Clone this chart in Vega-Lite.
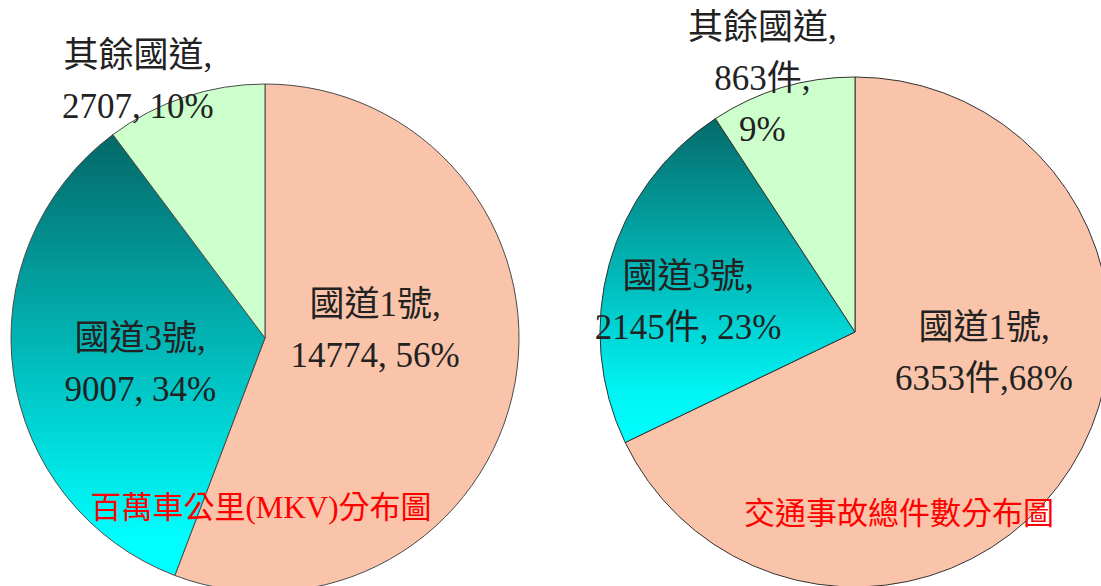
{
  "$schema": "https://vega.github.io/schema/vega-lite/v6.json",
  "padding": 0,
  "spacing": 0,
  "background": "white",
  "config": {"view": {"stroke": null}, "concat": {"spacing": 0}},
  "datasets": {
    "mkv": [
      {"cat": "國道1號", "value": 14774, "ord": 1, "label": "國道1號,\n14774, 56%"},
      {"cat": "國道3號", "value": 9007, "ord": 2, "label": "國道3號,\n9007, 34%"},
      {"cat": "其餘國道", "value": 2707, "ord": 3, "label": "其餘國道,\n2707, 10%"}
    ],
    "acc": [
      {"cat": "國道1號", "value": 6353, "ord": 1, "label": "國道1號,\n6353件,68%"},
      {"cat": "國道3號", "value": 2145, "ord": 2, "label": "國道3號,\n2145件, 23%"},
      {"cat": "其餘國道", "value": 863, "ord": 3, "label": "其餘國道,\n863件,\n9%"}
    ]
  },
  "hconcat": [
    {
      "width": 530,
      "height": 676,
      "data": {"name": "mkv"},
      "title": {"text": "百萬車公里(MKV)分布圖", "orient": "bottom", "frame": "group", "anchor": "middle", "offset": -182, "dx": -4, "color": "#FF0000", "fontSize": 31, "fontWeight": "normal", "font": "Liberation Serif, Noto Sans CJK TC"},
      "layer": [
        {
          "mark": {"type": "arc", "radius": 254, "stroke": "#4a4a4a", "strokeWidth": 1},
          "encoding": {
            "theta": {"field": "value", "type": "quantitative", "stack": true},
            "order": {"field": "ord", "type": "quantitative"},
            "color": {
              "condition": {"test": "datum.cat === '國道3號'", "value": {"gradient": "linear", "x1": 0, "y1": 0, "x2": 0, "y2": 1, "stops": [{"offset": 0, "color": "#046767"}, {"offset": 0.92, "color": "#00FFFF"}, {"offset": 1, "color": "#00FFFF"}]}},
              "field": "cat", "type": "nominal",
              "scale": {"domain": ["國道1號", "國道3號", "其餘國道"], "range": ["#F9C4A9", "#00AAAA", "#CCFFCC"]},
              "legend": null
            }
          }
        },
        {
          "mark": {"type": "text", "radius": 110, "dx": 2, "dy": -53, "align": "center", "baseline": "middle", "lineBreak": "\n", "lineHeight": 51, "fontSize": 35, "font": "Liberation Serif, Noto Sans CJK TC", "color": "#222222"},
          "encoding": {
            "theta": {"field": "value", "type": "quantitative", "stack": true},
            "order": {"field": "ord", "type": "quantitative"},
            "text": {"condition": {"test": "datum.cat === '國道1號'", "field": "label"}, "value": ""}
          }
        },
        {
          "mark": {"type": "text", "radius": 127, "dx": 1, "dy": -17, "align": "center", "baseline": "middle", "lineBreak": "\n", "lineHeight": 51, "fontSize": 35, "font": "Liberation Serif, Noto Sans CJK TC", "color": "#222222"},
          "encoding": {
            "theta": {"field": "value", "type": "quantitative", "stack": true},
            "order": {"field": "ord", "type": "quantitative"},
            "text": {"condition": {"test": "datum.cat === '國道3號'", "field": "label"}, "value": ""}
          }
        },
        {
          "mark": {"type": "text", "radius": 200, "dx": -64, "dy": -92, "align": "center", "baseline": "middle", "lineBreak": "\n", "lineHeight": 51, "fontSize": 35, "font": "Liberation Serif, Noto Sans CJK TC", "color": "#222222"},
          "encoding": {
            "theta": {"field": "value", "type": "quantitative", "stack": true},
            "order": {"field": "ord", "type": "quantitative"},
            "text": {"condition": {"test": "datum.cat === '其餘國道'", "field": "label"}, "value": ""}
          }
        }
      ]
    },
    {
      "width": 650,
      "height": 664,
      "data": {"name": "acc"},
      "title": {"text": "交通事故總件數分布圖", "orient": "bottom", "frame": "group", "anchor": "middle", "offset": -164, "dx": 44, "color": "#FF0000", "fontSize": 31, "fontWeight": "normal", "font": "Liberation Serif, Noto Sans CJK TC"},
      "layer": [
        {
          "mark": {"type": "arc", "radius": 255, "stroke": "#333333", "strokeWidth": 1},
          "encoding": {
            "theta": {"field": "value", "type": "quantitative", "stack": true},
            "order": {"field": "ord", "type": "quantitative"},
            "color": {
              "condition": {"test": "datum.cat === '國道3號'", "value": {"gradient": "linear", "x1": 0, "y1": 0, "x2": 0, "y2": 1, "stops": [{"offset": 0, "color": "#056a6a"}, {"offset": 0.85, "color": "#00F5F5"}, {"offset": 1, "color": "#00FFFF"}]}},
              "field": "cat", "type": "nominal",
              "scale": {"domain": ["國道1號", "國道3號", "其餘國道"], "range": ["#F9C4A9", "#00AAAA", "#CCFFCC"]},
              "legend": null
            }
          }
        },
        {
          "mark": {"type": "text", "radius": 130, "dx": 19, "dy": -73, "align": "center", "baseline": "middle", "lineBreak": "\n", "lineHeight": 51, "fontSize": 35, "font": "Liberation Serif, Noto Sans CJK TC", "color": "#222222"},
          "encoding": {
            "theta": {"field": "value", "type": "quantitative", "stack": true},
            "order": {"field": "ord", "type": "quantitative"},
            "text": {"condition": {"test": "datum.cat === '國道1號'", "field": "label"}, "value": ""}
          }
        },
        {
          "mark": {"type": "text", "radius": 168, "dx": -5, "dy": -10, "align": "center", "baseline": "middle", "lineBreak": "\n", "lineHeight": 51, "fontSize": 35, "font": "Liberation Serif, Noto Sans CJK TC", "color": "#222222"},
          "encoding": {
            "theta": {"field": "value", "type": "quantitative", "stack": true},
            "order": {"field": "ord", "type": "quantitative"},
            "text": {"condition": {"test": "datum.cat === '國道3號'", "field": "label"}, "value": ""}
          }
        },
        {
          "mark": {"type": "text", "radius": 272, "dx": -15, "dy": -43, "align": "center", "baseline": "middle", "lineBreak": "\n", "lineHeight": 51, "fontSize": 35, "font": "Liberation Serif, Noto Sans CJK TC", "color": "#222222"},
          "encoding": {
            "theta": {"field": "value", "type": "quantitative", "stack": true},
            "order": {"field": "ord", "type": "quantitative"},
            "text": {"condition": {"test": "datum.cat === '其餘國道'", "field": "label"}, "value": ""}
          }
        }
      ]
    }
  ]
}
